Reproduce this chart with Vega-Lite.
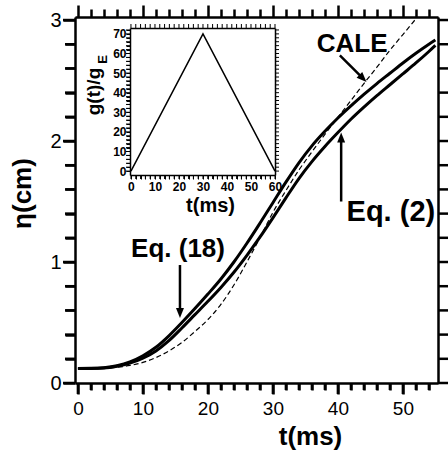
{
  "$schema": "https://vega.github.io/schema/vega-lite/v6.json",
  "width": 363,
  "height": 366,
  "autosize": {"type": "none"},
  "padding": {"left": 75, "top": 17, "right": 10, "bottom": 72},
  "background": "white",
  "config": {
    "view": {"stroke": null},
    "font": "Liberation Sans"
  },
  "datasets": {
    "curves": [
      {"series": "Eq. (18)", "t": 0, "eta": 0.12}, {"series": "Eq. (18)", "t": 2, "eta": 0.121}, {"series": "Eq. (18)", "t": 4, "eta": 0.127}, {"series": "Eq. (18)", "t": 6, "eta": 0.143}, {"series": "Eq. (18)", "t": 8, "eta": 0.174}, {"series": "Eq. (18)", "t": 10, "eta": 0.225}, {"series": "Eq. (18)", "t": 12, "eta": 0.295}, {"series": "Eq. (18)", "t": 14, "eta": 0.39}, {"series": "Eq. (18)", "t": 16, "eta": 0.5}, {"series": "Eq. (18)", "t": 18, "eta": 0.615}, {"series": "Eq. (18)", "t": 20, "eta": 0.735}, {"series": "Eq. (18)", "t": 22, "eta": 0.86}, {"series": "Eq. (18)", "t": 24, "eta": 1.0}, {"series": "Eq. (18)", "t": 26, "eta": 1.155}, {"series": "Eq. (18)", "t": 28, "eta": 1.32}, {"series": "Eq. (18)", "t": 30, "eta": 1.49}, {"series": "Eq. (18)", "t": 32, "eta": 1.66}, {"series": "Eq. (18)", "t": 34, "eta": 1.82}, {"series": "Eq. (18)", "t": 36, "eta": 1.96}, {"series": "Eq. (18)", "t": 38, "eta": 2.08}, {"series": "Eq. (18)", "t": 40, "eta": 2.19}, {"series": "Eq. (18)", "t": 42, "eta": 2.29}, {"series": "Eq. (18)", "t": 44, "eta": 2.385}, {"series": "Eq. (18)", "t": 46, "eta": 2.475}, {"series": "Eq. (18)", "t": 48, "eta": 2.56}, {"series": "Eq. (18)", "t": 50, "eta": 2.645}, {"series": "Eq. (18)", "t": 52, "eta": 2.725}, {"series": "Eq. (18)", "t": 54, "eta": 2.8}, {"series": "Eq. (18)", "t": 55, "eta": 2.835},
      {"series": "Eq. (2)", "t": 0, "eta": 0.12}, {"series": "Eq. (2)", "t": 2, "eta": 0.12}, {"series": "Eq. (2)", "t": 4, "eta": 0.123}, {"series": "Eq. (2)", "t": 6, "eta": 0.138}, {"series": "Eq. (2)", "t": 8, "eta": 0.164}, {"series": "Eq. (2)", "t": 10, "eta": 0.205}, {"series": "Eq. (2)", "t": 12, "eta": 0.265}, {"series": "Eq. (2)", "t": 14, "eta": 0.35}, {"series": "Eq. (2)", "t": 16, "eta": 0.455}, {"series": "Eq. (2)", "t": 18, "eta": 0.565}, {"series": "Eq. (2)", "t": 20, "eta": 0.675}, {"series": "Eq. (2)", "t": 22, "eta": 0.79}, {"series": "Eq. (2)", "t": 24, "eta": 0.915}, {"series": "Eq. (2)", "t": 26, "eta": 1.055}, {"series": "Eq. (2)", "t": 28, "eta": 1.205}, {"series": "Eq. (2)", "t": 30, "eta": 1.365}, {"series": "Eq. (2)", "t": 32, "eta": 1.53}, {"series": "Eq. (2)", "t": 34, "eta": 1.69}, {"series": "Eq. (2)", "t": 36, "eta": 1.83}, {"series": "Eq. (2)", "t": 38, "eta": 1.955}, {"series": "Eq. (2)", "t": 40, "eta": 2.07}, {"series": "Eq. (2)", "t": 42, "eta": 2.18}, {"series": "Eq. (2)", "t": 44, "eta": 2.28}, {"series": "Eq. (2)", "t": 46, "eta": 2.375}, {"series": "Eq. (2)", "t": 48, "eta": 2.465}, {"series": "Eq. (2)", "t": 50, "eta": 2.555}, {"series": "Eq. (2)", "t": 52, "eta": 2.645}, {"series": "Eq. (2)", "t": 54, "eta": 2.74}, {"series": "Eq. (2)", "t": 55, "eta": 2.79},
      {"series": "CALE", "t": 0, "eta": 0.12}, {"series": "CALE", "t": 2, "eta": 0.12}, {"series": "CALE", "t": 4, "eta": 0.122}, {"series": "CALE", "t": 6, "eta": 0.13}, {"series": "CALE", "t": 8, "eta": 0.145}, {"series": "CALE", "t": 10, "eta": 0.17}, {"series": "CALE", "t": 12, "eta": 0.21}, {"series": "CALE", "t": 14, "eta": 0.265}, {"series": "CALE", "t": 16, "eta": 0.335}, {"series": "CALE", "t": 18, "eta": 0.425}, {"series": "CALE", "t": 20, "eta": 0.525}, {"series": "CALE", "t": 22, "eta": 0.65}, {"series": "CALE", "t": 24, "eta": 0.81}, {"series": "CALE", "t": 26, "eta": 1.0}, {"series": "CALE", "t": 28, "eta": 1.2}, {"series": "CALE", "t": 30, "eta": 1.41}, {"series": "CALE", "t": 32, "eta": 1.59}, {"series": "CALE", "t": 34, "eta": 1.76}, {"series": "CALE", "t": 36, "eta": 1.91}, {"series": "CALE", "t": 38, "eta": 2.055}, {"series": "CALE", "t": 40, "eta": 2.195}, {"series": "CALE", "t": 42, "eta": 2.335}, {"series": "CALE", "t": 44, "eta": 2.475}, {"series": "CALE", "t": 46, "eta": 2.61}, {"series": "CALE", "t": 48, "eta": 2.75}, {"series": "CALE", "t": 50, "eta": 2.88}, {"series": "CALE", "t": 52, "eta": 3.01}
    ],
    "pulse": [{"t": 0, "g": 0}, {"t": 30, "g": 70}, {"t": 60, "g": 0}],
    "tx": [{"t": 0}, {"t": 2}, {"t": 4}, {"t": 6}, {"t": 8}, {"t": 10}, {"t": 12}, {"t": 14}, {"t": 16}, {"t": 18}, {"t": 20}, {"t": 22}, {"t": 24}, {"t": 26}, {"t": 28}, {"t": 30}, {"t": 32}, {"t": 34}, {"t": 36}, {"t": 38}, {"t": 40}, {"t": 42}, {"t": 44}, {"t": 46}, {"t": 48}, {"t": 50}, {"t": 52}, {"t": 54}],
    "ty": [{"eta": 0}, {"eta": 0.2}, {"eta": 0.4}, {"eta": 0.6}, {"eta": 0.8}, {"eta": 1}, {"eta": 1.2}, {"eta": 1.4}, {"eta": 1.6}, {"eta": 1.8}, {"eta": 2}, {"eta": 2.2}, {"eta": 2.4}, {"eta": 2.6}, {"eta": 2.8}, {"eta": 3}],
    "itx": [{"t": 0}, {"t": 2}, {"t": 4}, {"t": 6}, {"t": 8}, {"t": 10}, {"t": 12}, {"t": 14}, {"t": 16}, {"t": 18}, {"t": 20}, {"t": 22}, {"t": 24}, {"t": 26}, {"t": 28}, {"t": 30}, {"t": 32}, {"t": 34}, {"t": 36}, {"t": 38}, {"t": 40}, {"t": 42}, {"t": 44}, {"t": 46}, {"t": 48}, {"t": 50}, {"t": 52}, {"t": 54}, {"t": 56}, {"t": 58}, {"t": 60}],
    "ity": [{"g": 0}, {"g": 2}, {"g": 4}, {"g": 6}, {"g": 8}, {"g": 10}, {"g": 12}, {"g": 14}, {"g": 16}, {"g": 18}, {"g": 20}, {"g": 22}, {"g": 24}, {"g": 26}, {"g": 28}, {"g": 30}, {"g": 32}, {"g": 34}, {"g": 36}, {"g": 38}, {"g": 40}, {"g": 42}, {"g": 44}, {"g": 46}, {"g": 48}, {"g": 50}, {"g": 52}, {"g": 54}, {"g": 56}, {"g": 58}, {"g": 60}, {"g": 62}, {"g": 64}, {"g": 66}, {"g": 68}, {"g": 70}, {"g": 72}],
    "subscript": [{"text": "E", "t": -10, "g": 57}],
    "labels": [
      {"label": "CALE", "t": 42.2, "eta": 2.735},
      {"label": "Eq. (2)", "t": 48.15, "eta": 1.34},
      {"label": "Eq. (18)", "t": 15.4, "eta": 1.04}
    ],
    "arrows": [
      {"label": "CALE", "t": 40.3, "eta": 2.708, "t2": 43.86, "eta2": 2.517},
      {"label": "Eq. (2)", "t": 40.5, "eta": 1.5, "t2": 40.5, "eta2": 2.03},
      {"label": "Eq. (18)", "t": 15.7, "eta": 0.975, "t2": 15.7, "eta2": 0.578}
    ],
    "heads": [
      {"label": "CALE", "t": 44.4, "eta": 2.488},
      {"label": "Eq. (2)", "t": 40.5, "eta": 2.07},
      {"label": "Eq. (18)", "t": 15.7, "eta": 0.537}
    ]
  },
  "resolve": {"scale": {"x": "independent", "y": "independent"}, "axis": {"x": "independent", "y": "independent"}},
  "layer": [
    {
      "data": {"name": "curves"},
      "transform": [{"filter": "datum.series !== 'CALE'"}],
      "mark": {"type": "line", "color": "black", "strokeWidth": 3, "interpolate": "monotone"},
      "encoding": {
        "x": {"field": "t", "type": "quantitative", "scale": {"domain": [-0.45, 55.4], "nice": false, "zero": false},
          "axis": {"orient": "bottom", "grid": false, "values": [0,2,4,6,8,10,12,14,16,18,20,22,24,26,28,30,32,34,36,38,40,42,44,46,48,50,52,54],
            "labelExpr": "datum.value % 10 === 0 ? datum.label : ''", "labelFlush": false, "labelOverlap": false,
            "tickSize": {"condition": {"test": "datum.value % 10 === 0", "value": 11}, "value": 7},
            "domainColor": "black", "tickColor": "black", "labelColor": "black", "titleColor": "black", "labelFont": "Liberation Sans", "titleFont": "Liberation Sans",
            "tickWidth": 2.5, "domainWidth": 2.5, "labelFontSize": 19, "labelPadding": 5,
            "title": "t(ms)", "titleFontSize": 26, "titleFontWeight": "bold", "titleX": 235, "titleY": 61, "titleBaseline": "alphabetic", "titleAlign": "center"}},
        "y": {"field": "eta", "type": "quantitative", "scale": {"domain": [0, 3.025], "nice": false, "zero": false},
          "axis": {"orient": "left", "grid": false, "values": [0,0.2,0.4,0.6,0.8,1,1.2,1.4,1.6,1.8,2,2.2,2.4,2.6,2.8,3],
            "labelExpr": "datum.value % 1 === 0 ? format(datum.value, 'd') : ''", "labelFlush": false, "labelOverlap": false,
            "tickSize": {"condition": {"test": "datum.value % 1 === 0", "value": 12}, "value": 10},
            "domainColor": "black", "tickColor": "black", "labelColor": "black", "titleColor": "black", "labelFont": "Liberation Sans", "titleFont": "Liberation Sans",
            "tickWidth": 2.5, "domainWidth": 2.5, "labelFontSize": 20, "labelPadding": 2,
            "title": "η(cm)", "titleFontSize": 26, "titleFontWeight": "bold", "titleX": -45, "titleY": 176, "titleAngle": 270, "titleBaseline": "alphabetic", "titleAlign": "center"}},
        "detail": {"field": "series"}
      }
    },
    {
      "data": {"name": "curves"},
      "transform": [{"filter": "datum.series === 'CALE'"}],
      "mark": {"type": "line", "color": "black", "strokeWidth": 1.2, "strokeDash": [5, 3], "interpolate": "monotone"},
      "encoding": {
        "x": {"field": "t", "type": "quantitative", "scale": {"domain": [-0.45, 55.4], "nice": false, "zero": false}, "axis": null},
        "y": {"field": "eta", "type": "quantitative", "scale": {"domain": [0, 3.025], "nice": false, "zero": false}, "axis": null}
      }
    },
    {
      "data": {"name": "curves"},
      "mark": {"type": "point", "opacity": 0},
      "encoding": {
        "x": {"field": "t", "type": "quantitative", "scale": {"domain": [-0.45, 55.4], "nice": false, "zero": false},
          "axis": {"orient": "top", "grid": false, "values": [0,2,4,6,8,10,12,14,16,18,20,22,24,26,28,30,32,34,36,38,40,42,44,46,48,50,52,54],
            "labels": false, "title": null,
            "tickSize": {"condition": {"test": "datum.value % 10 === 0", "value": 12}, "value": 8},
            "domainColor": "black", "tickColor": "black", "tickWidth": 2.5}},
        "y": {"field": "eta", "type": "quantitative", "scale": {"domain": [0, 3.025], "nice": false, "zero": false}, "axis": null}
      }
    },
    {
      "data": {"name": "curves"},
      "mark": {"type": "point", "opacity": 0},
      "encoding": {
        "x": {"field": "t", "type": "quantitative", "scale": {"domain": [-0.45, 55.4], "nice": false, "zero": false},
          "axis": {"orient": "top", "grid": false, "ticks": false, "labels": false, "title": null, "domainColor": "black", "domainWidth": 2.5}},
        "y": {"field": "eta", "type": "quantitative", "scale": {"domain": [0, 3.025], "nice": false, "zero": false},
          "axis": {"orient": "right", "grid": false, "ticks": false, "labels": false, "title": null, "domainColor": "black", "domainWidth": 2.5}}
      }
    },
    {
      "data": {"name": "tx"},
      "transform": [{"filter": "datum.t % 10 === 0"}],
      "mark": {"type": "tick", "orient": "vertical", "color": "black", "opacity": 1, "size": 11, "thickness": 2.5},
      "encoding": {
        "x": {"field": "t", "type": "quantitative", "scale": {"domain": [-0.45, 55.4], "nice": false, "zero": false}, "axis": null},
        "y": {"datum": -0.0455, "type": "quantitative", "scale": {"domain": [0, 3.025], "nice": false, "zero": false}, "axis": null}
      }
    },
    {
      "data": {"name": "tx"},
      "transform": [{"filter": "datum.t % 10 !== 0"}],
      "mark": {"type": "tick", "orient": "vertical", "color": "black", "opacity": 1, "size": 7, "thickness": 2.5},
      "encoding": {
        "x": {"field": "t", "type": "quantitative", "scale": {"domain": [-0.45, 55.4], "nice": false, "zero": false}, "axis": null},
        "y": {"datum": -0.0289, "type": "quantitative", "scale": {"domain": [0, 3.025], "nice": false, "zero": false}, "axis": null}
      }
    },
    {
      "data": {"name": "ty"},
      "transform": [{"filter": "datum.eta % 1 === 0"}],
      "mark": {"type": "tick", "orient": "horizontal", "color": "black", "opacity": 1, "size": 12, "thickness": 2.5},
      "encoding": {
        "y": {"field": "eta", "type": "quantitative", "scale": {"domain": [0, 3.025], "nice": false, "zero": false}, "axis": null},
        "x": {"datum": -1.373, "type": "quantitative", "scale": {"domain": [-0.45, 55.4], "nice": false, "zero": false}, "axis": null}
      }
    },
    {
      "data": {"name": "ty"},
      "transform": [{"filter": "datum.eta % 1 !== 0"}],
      "mark": {"type": "tick", "orient": "horizontal", "color": "black", "opacity": 1, "size": 10, "thickness": 2.5},
      "encoding": {
        "y": {"field": "eta", "type": "quantitative", "scale": {"domain": [0, 3.025], "nice": false, "zero": false}, "axis": null},
        "x": {"datum": -1.219, "type": "quantitative", "scale": {"domain": [-0.45, 55.4], "nice": false, "zero": false}, "axis": null}
      }
    },
    {
      "data": {"name": "ty"},
      "mark": {"type": "tick", "orient": "horizontal", "color": "black", "opacity": 1, "size": 11, "thickness": 2.5},
      "encoding": {
        "y": {"field": "eta", "type": "quantitative", "scale": {"domain": [0, 3.025], "nice": false, "zero": false}, "axis": null},
        "x": {"datum": 56.246, "type": "quantitative", "scale": {"domain": [-0.45, 55.4], "nice": false, "zero": false}, "axis": null}
      }
    },
    {
      "data": {"name": "pulse"},
      "mark": {"type": "line", "color": "black", "strokeWidth": 1.5},
      "encoding": {
        "x": {"field": "t", "type": "quantitative", "scale": {"domain": [-0.4, 60], "range": [55, 200], "nice": false, "zero": false},
          "axis": {"orient": "bottom", "grid": false, "offset": -208, "values": [0,2,4,6,8,10,12,14,16,18,20,22,24,26,28,30,32,34,36,38,40,42,44,46,48,50,52,54,56,58,60],
            "labelExpr": "datum.value % 10 === 0 ? datum.label : ''", "labelFlush": false, "labelOverlap": false,
            "tickSize": 4,
            "domainColor": "black", "tickColor": "black", "labelColor": "black", "titleColor": "black", "labelFont": "Liberation Sans", "titleFont": "Liberation Sans",
            "tickWidth": 1, "domainWidth": 1.5, "labelFontSize": 12, "labelFontWeight": "bold", "labelPadding": 2,
            "title": "t(ms)", "titleFontSize": 20, "titleFontWeight": "bold", "titleX": 135, "titleY": 36, "titleBaseline": "alphabetic", "titleAlign": "center"}},
        "y": {"field": "g", "type": "quantitative", "scale": {"domain": [-2, 73], "range": [158, 11], "nice": false, "zero": false},
          "axis": {"orient": "left", "grid": false, "offset": -55, "values": [0,2,4,6,8,10,12,14,16,18,20,22,24,26,28,30,32,34,36,38,40,42,44,46,48,50,52,54,56,58,60,62,64,66,68,70,72],
            "labelExpr": "datum.value % 10 === 0 ? datum.label : ''", "labelFlush": false, "labelOverlap": false,
            "tickSize": 4,
            "domainColor": "black", "tickColor": "black", "labelColor": "black", "titleColor": "black", "labelFont": "Liberation Sans", "titleFont": "Liberation Sans",
            "tickWidth": 1, "domainWidth": 1.5, "labelFontSize": 12, "labelFontWeight": "bold", "labelPadding": 0,
            "title": "g(t)/g", "titleFontSize": 19, "titleFontWeight": "bold", "titleX": -31, "titleY": 74, "titleAngle": 270, "titleBaseline": "alphabetic", "titleAlign": "center"}}
      }
    },
    {
      "data": {"name": "pulse"},
      "mark": {"type": "point", "opacity": 0},
      "encoding": {
        "x": {"field": "t", "type": "quantitative", "scale": {"domain": [-0.4, 60], "range": [55, 200], "nice": false, "zero": false},
          "axis": {"orient": "top", "grid": false, "offset": -11, "ticks": false, "labels": false, "title": null, "domainColor": "black", "domainWidth": 1.5}},
        "y": {"field": "g", "type": "quantitative", "scale": {"domain": [-2, 73], "range": [158, 11], "nice": false, "zero": false},
          "axis": {"orient": "right", "grid": false, "offset": -163, "ticks": false, "labels": false, "title": null, "domainColor": "black", "domainWidth": 1.5}}
      }
    },
    {
      "data": {"name": "itx"},
      "mark": {"type": "tick", "orient": "vertical", "color": "black", "opacity": 1, "size": 4, "thickness": 1},
      "encoding": {
        "x": {"field": "t", "type": "quantitative", "scale": {"domain": [-0.4, 60], "range": [55, 200], "nice": false, "zero": false}, "axis": null},
        "y": {"datum": -3.02, "type": "quantitative", "scale": {"domain": [-2, 73], "range": [158, 11], "nice": false, "zero": false}, "axis": null}
      }
    },
    {
      "data": {"name": "itx"},
      "mark": {"type": "tick", "orient": "vertical", "color": "black", "opacity": 1, "size": 4, "thickness": 1},
      "encoding": {
        "x": {"field": "t", "type": "quantitative", "scale": {"domain": [-0.4, 60], "range": [55, 200], "nice": false, "zero": false}, "axis": null},
        "y": {"datum": 74.02, "type": "quantitative", "scale": {"domain": [-2, 73], "range": [158, 11], "nice": false, "zero": false}, "axis": null}
      }
    },
    {
      "data": {"name": "ity"},
      "mark": {"type": "tick", "orient": "horizontal", "color": "black", "opacity": 1, "size": 4, "thickness": 1},
      "encoding": {
        "y": {"field": "g", "type": "quantitative", "scale": {"domain": [-2, 73], "range": [158, 11], "nice": false, "zero": false}, "axis": null},
        "x": {"datum": -1.233, "type": "quantitative", "scale": {"domain": [-0.4, 60], "range": [55, 200], "nice": false, "zero": false}, "axis": null}
      }
    },
    {
      "data": {"name": "ity"},
      "mark": {"type": "tick", "orient": "horizontal", "color": "black", "opacity": 1, "size": 4, "thickness": 1},
      "encoding": {
        "y": {"field": "g", "type": "quantitative", "scale": {"domain": [-2, 73], "range": [158, 11], "nice": false, "zero": false}, "axis": null},
        "x": {"datum": 60.833, "type": "quantitative", "scale": {"domain": [-0.4, 60], "range": [55, 200], "nice": false, "zero": false}, "axis": null}
      }
    },
    {
      "data": {"name": "subscript"},
      "mark": {"type": "text", "angle": 270, "fontSize": 13, "fontWeight": "bold", "font": "Liberation Sans", "align": "center", "baseline": "alphabetic", "color": "black"},
      "encoding": {
        "x": {"field": "t", "type": "quantitative", "scale": {"domain": [-0.4, 60], "range": [55, 200], "nice": false, "zero": false}, "axis": null},
        "y": {"field": "g", "type": "quantitative", "scale": {"domain": [-2, 73], "range": [158, 11], "nice": false, "zero": false}, "axis": null},
        "text": {"field": "text"}
      }
    },
    {
      "data": {"name": "labels"},
      "mark": {"type": "text", "fontWeight": "bold", "font": "Liberation Sans", "align": "center", "baseline": "alphabetic", "color": "black"},
      "encoding": {
        "x": {"field": "t", "type": "quantitative", "scale": {"domain": [-0.45, 55.4], "nice": false, "zero": false}, "axis": null},
        "y": {"field": "eta", "type": "quantitative", "scale": {"domain": [0, 3.025], "nice": false, "zero": false}, "axis": null},
        "text": {"field": "label"},
        "size": {"condition": {"test": "datum.label === 'Eq. (2)'", "value": 29}, "value": 26}
      }
    },
    {
      "data": {"name": "arrows"},
      "mark": {"type": "rule", "color": "black", "strokeWidth": 2.5},
      "encoding": {
        "x": {"field": "t", "type": "quantitative", "scale": {"domain": [-0.45, 55.4], "nice": false, "zero": false}, "axis": null},
        "y": {"field": "eta", "type": "quantitative", "scale": {"domain": [0, 3.025], "nice": false, "zero": false}, "axis": null},
        "x2": {"field": "t2"},
        "y2": {"field": "eta2"}
      }
    },
    {
      "data": {"name": "heads"},
      "transform": [{"filter": "datum.label === 'CALE'"}],
      "mark": {"type": "point", "shape": "M0,0L-0.4,1L0.4,1Z", "size": 400, "filled": true, "color": "black", "opacity": 1, "strokeWidth": 0, "angle": 135},
      "encoding": {
        "x": {"field": "t", "type": "quantitative", "scale": {"domain": [-0.45, 55.4], "nice": false, "zero": false}, "axis": null},
        "y": {"field": "eta", "type": "quantitative", "scale": {"domain": [0, 3.025], "nice": false, "zero": false}, "axis": null}
      }
    },
    {
      "data": {"name": "heads"},
      "transform": [{"filter": "datum.label === 'Eq. (2)'"}],
      "mark": {"type": "point", "shape": "M0,0L-0.4,1L0.4,1Z", "size": 400, "filled": true, "color": "black", "opacity": 1, "strokeWidth": 0, "angle": 0},
      "encoding": {
        "x": {"field": "t", "type": "quantitative", "scale": {"domain": [-0.45, 55.4], "nice": false, "zero": false}, "axis": null},
        "y": {"field": "eta", "type": "quantitative", "scale": {"domain": [0, 3.025], "nice": false, "zero": false}, "axis": null}
      }
    },
    {
      "data": {"name": "heads"},
      "transform": [{"filter": "datum.label === 'Eq. (18)'"}],
      "mark": {"type": "point", "shape": "M0,0L-0.4,1L0.4,1Z", "size": 400, "filled": true, "color": "black", "opacity": 1, "strokeWidth": 0, "angle": 180},
      "encoding": {
        "x": {"field": "t", "type": "quantitative", "scale": {"domain": [-0.45, 55.4], "nice": false, "zero": false}, "axis": null},
        "y": {"field": "eta", "type": "quantitative", "scale": {"domain": [0, 3.025], "nice": false, "zero": false}, "axis": null}
      }
    }
  ]
}
